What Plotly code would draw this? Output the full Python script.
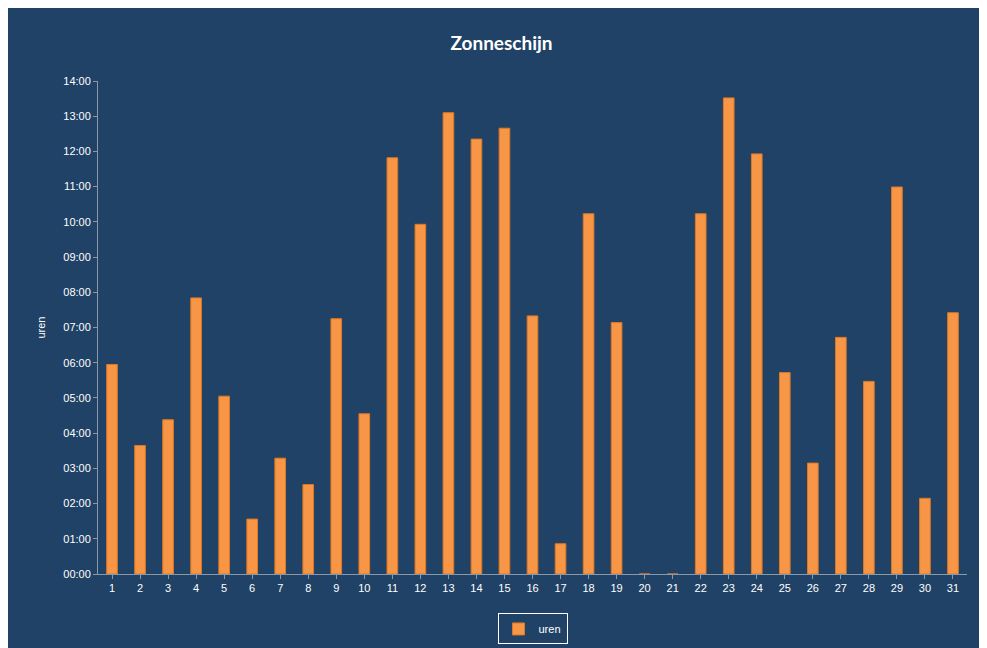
import plotly.graph_objects as go

days = [str(i) for i in range(1, 32)]
uren = [5.95, 3.65, 4.38, 7.84, 5.05, 1.56, 3.29, 2.54, 7.25, 4.55, 11.82, 9.93, 13.1, 12.35,
        12.66, 7.33, 0.86, 10.23, 7.14, 0, 0, 10.23, 13.52, 11.93, 5.72, 3.15, 6.72, 5.47,
        10.99, 2.15, 7.42]
tick_vals = list(range(0, 15))
tick_text = [f"{h:02d}:00" for h in tick_vals]

fig = go.Figure(go.Bar(
    x=days, y=uren, name="uren", width=0.38,
    marker=dict(color="#F79646", line=dict(color="#E07820", width=1)),
))
fig.update_layout(
    width=987, height=648,
    paper_bgcolor="#1F4266", plot_bgcolor="#1F4266",
    margin=dict(l=90, r=28, t=73, b=73),
    title=dict(text="<b>Zonneschijn</b>", x=0.5, y=0.955, xanchor="center",
               font=dict(family="Lato, Open Sans, sans-serif", size=19, color="white")),
    font=dict(family="Liberation Sans, Arial", size=11, color="white"),
    showlegend=True,
    legend=dict(orientation="h", x=0.5, xanchor="center", y=-0.08, yanchor="top",
                bordercolor="white", borderwidth=1, bgcolor="#1F4266",
                font=dict(size=11, color="white")),
    bargap=0.6,
    xaxis=dict(showgrid=False, showline=True, linecolor="#8899AA", ticks="outside",
               tickcolor="#8899AA", ticklen=4, tickfont=dict(size=11)),
    yaxis=dict(title=dict(text="uren", font=dict(size=11)), range=[0, 14],
               tickvals=tick_vals, ticktext=tick_text, showgrid=False,
               showline=True, linecolor="#8899AA", ticks="outside", tickcolor="#8899AA",
               ticklen=4, zeroline=False, tickfont=dict(size=11)),
)
fig.write_html("out.html")
